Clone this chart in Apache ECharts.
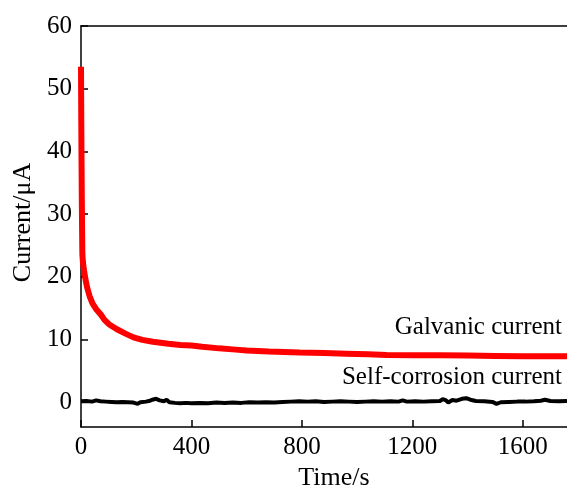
<!DOCTYPE html>
<html><head><meta charset="utf-8">
<script src="https://cdn.jsdelivr.net/npm/echarts@6/dist/echarts.min.js"></script>
<style>html,body{margin:0;padding:0;background:#fff}#c{width:567px;height:486px}</style>
</head><body><div id="c"></div>
<script>
// Galvanic current (red)
const galvT = [0, 1, 2, 3, 4, 5, 7, 10, 16, 22, 31, 42, 55, 71, 85, 101, 130, 161, 190, 222, 260, 317, 360, 400, 439, 500, 560, 600, 680, 792, 880, 960, 1040, 1107, 1200, 1300, 1400, 1500, 1600, 1700, 1760];
const galvV = [53.5, 45, 38, 32, 27, 23.5, 22.3, 21.2, 19.6, 18.3, 16.9, 15.7, 14.8, 14.0, 13.1, 12.4, 11.6, 10.9, 10.3, 9.9, 9.6, 9.3, 9.1, 9.0, 8.8, 8.55, 8.35, 8.2, 8.05, 7.9, 7.8, 7.7, 7.6, 7.5, 7.45, 7.45, 7.4, 7.35, 7.3, 7.3, 7.3];
// Self-corrosion current (black)
const selfT = [0, 20, 40, 55, 70, 90, 110, 130, 150, 170, 190, 205, 215, 235, 250, 262, 272, 285, 300, 310, 320, 340, 360, 380, 400, 430, 460, 490, 520, 550, 580, 610, 640, 670, 700, 730, 760, 790, 820, 850, 880, 910, 940, 970, 1000, 1030, 1060, 1090, 1120, 1150, 1165, 1180, 1210, 1240, 1270, 1300, 1310, 1320, 1330, 1345, 1360, 1380, 1395, 1410, 1430, 1460, 1490, 1505, 1520, 1550, 1580, 1610, 1640, 1665, 1680, 1700, 1730, 1760];
const selfV = [0.1, 0.15, 0.05, 0.25, 0.1, 0.05, 0.0, -0.05, 0.0, -0.05, -0.1, -0.3, -0.05, 0.05, 0.2, 0.4, 0.5, 0.25, 0.1, 0.35, -0.05, -0.15, -0.2, -0.15, -0.2, -0.15, -0.2, -0.1, -0.15, -0.1, -0.15, -0.05, -0.1, -0.05, -0.1, 0.0, 0.05, 0.1, 0.05, 0.1, 0.0, 0.05, 0.1, 0.05, 0.0, 0.05, 0.1, 0.05, 0.1, 0.05, 0.25, 0.05, 0.1, 0.05, 0.1, 0.15, 0.45, 0.3, -0.1, 0.3, 0.2, 0.5, 0.6, 0.35, 0.15, 0.1, 0.0, -0.3, -0.05, 0.0, 0.05, 0.05, 0.1, 0.2, 0.35, 0.15, 0.1, 0.15];
const xTicks = [0, 400, 800, 1200, 1600];
const yTicks = [0, 10, 20, 30, 40, 50, 60];
const seriesNames = ['Galvanic current', 'Self-corrosion current'];
const xName = 'Time/s';
const yName = 'Current/μA';

const FONT = '"Liberation Serif", "Times New Roman", serif';
const chart = echarts.init(document.getElementById('c'), null, {renderer: 'canvas'});
const zip = (t, v) => t.map((x, i) => [x, v[i]]);
chart.setOption({
  animation: false,
  backgroundColor: '#fff',
  grid: {left: 81, right: 0, top: 26, bottom: 59, containLabel: false, outerBoundsMode: 'none'},
  xAxis: [{
    type: 'value', min: 0, max: 1760, position: 'bottom',
    name: xName, nameLocation: 'middle', nameGap: 34,
    nameTextStyle: {fontFamily: FONT, fontSize: 26, color: '#000', padding: [0, 0, 0, 20]},
    axisLine: {show: true, onZero: false, lineStyle: {color: '#000', width: 1.5}},
    axisTick: {show: true, inside: true, length: 7, customValues: xTicks, lineStyle: {color: '#000', width: 1.5}},
    axisLabel: {customValues: xTicks, fontFamily: FONT, fontSize: 25, color: '#000', margin: 8, formatter: v => String(v)},
    splitLine: {show: false}
  }, {
    type: 'value', min: 0, max: 1760, position: 'top',
    axisLine: {show: true, onZero: false, lineStyle: {color: '#000', width: 1.5}},
    axisTick: {show: false}, axisLabel: {show: false}, splitLine: {show: false}
  }],
  yAxis: {
    type: 'value', min: -4, max: 60,
    name: yName, nameLocation: 'middle', nameGap: 45, nameRotate: 90,
    nameTextStyle: {fontFamily: FONT, fontSize: 26, color: '#000', padding: [0, 0, 0, 8]},
    axisLine: {show: true, onZero: false, lineStyle: {color: '#000', width: 1.5}},
    axisTick: {show: true, inside: true, length: 7, customValues: yTicks, lineStyle: {color: '#000', width: 1.5}},
    axisLabel: {customValues: yTicks, fontFamily: FONT, fontSize: 25, color: '#000', margin: 9, formatter: v => String(v)},
    splitLine: {show: false}
  },
  series: [{
    name: seriesNames[0], type: 'line', showSymbol: false, smooth: false,
    data: zip(galvT, galvV), lineStyle: {color: '#ff0000', width: 6}, itemStyle: {color: '#ff0000'}
  }, {
    name: seriesNames[1], type: 'line', showSymbol: false,
    data: zip(selfT, selfV), lineStyle: {color: '#000', width: 4}, itemStyle: {color: '#000'}
  }],
  graphic: [
    {type: 'text', right: 5, top: 315, style: {text: seriesNames[0], font: '25px ' + FONT, fill: '#000'}},
    {type: 'text', right: 5, top: 365, style: {text: seriesNames[1], font: '25px ' + FONT, fill: '#000'}}
  ]
});
</script></body></html>
